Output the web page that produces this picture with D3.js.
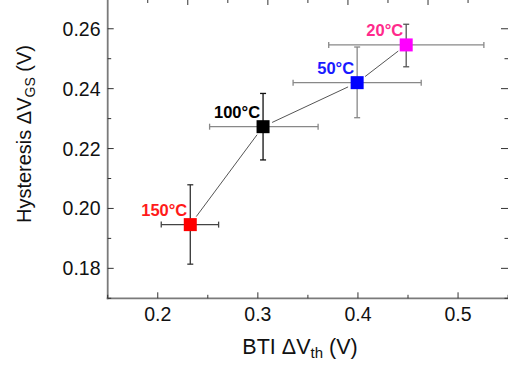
<!DOCTYPE html>
<html>
<head>
<meta charset="utf-8">
<script src="https://cdn.jsdelivr.net/npm/d3@7"></script>
<style>
  html, body { margin: 0; padding: 0; background: #fff; }
  svg { display: block; }
  text { font-family: Arial, "Liberation Sans", sans-serif; }
</style>
</head>
<body>
<svg id="chart" width="508" height="366"></svg>
<script>
// ---- data ----
const labels = ["150°C", "100°C", "50°C", "20°C"];
const btiDvth = [0.2325, 0.3052, 0.3992, 0.4482];
const hysteresis = [0.1946, 0.2273, 0.2420, 0.2546];
const xErrLow = [0.2035, 0.2518, 0.3352, 0.3708];
const xErrHigh = [0.2608, 0.3602, 0.4632, 0.5258];
const yErrLow = [0.1814, 0.2162, 0.2303, 0.2473];
const yErrHigh = [0.2079, 0.2384, 0.2539, 0.2615];
const xTicks = [0.2, 0.3, 0.4, 0.5];
const xMinorTicks = [0.15, 0.25, 0.35, 0.45, 0.55];
const yTicks = [0.18, 0.20, 0.22, 0.24, 0.26];
const yMinorTicks = [0.17, 0.19, 0.21, 0.23, 0.25, 0.27];
const topTicks = [0.19, 0.23, 0.27, 0.31, 0.35, 0.39, 0.43, 0.47, 0.51];
const topMajor = [false, true, false, true, false, true, false, true, false];

// ---- styles ----
const markerColors = ["#ff0000", "#000000", "#0000ff", "#ff00ff"];
const labelColors = ["#ff1a1a", "#000000", "#1a1aff", "#ff2a8c"];
const hErrColors = ["#444444", "#888888", "#888888", "#888888"];
const vErrColors = ["#333333", "#111111", "#888888", "#555555"];

const svg = d3.select("#chart");
const x = d3.scaleLinear().domain([0.15, 0.55]).range([107.7, 508.1]);
const y = d3.scaleLinear().domain([0.17, 0.27]).range([298.3, -1.2]);

const axisColor = "#7a7a7a";
const tickColor = "#333";

// frame lines
svg.append("line").attr("x1", x(0.15)).attr("x2", x(0.15)).attr("y1", y(0.17) + 1).attr("y2", 0)
  .attr("stroke", axisColor).attr("stroke-width", 1.8);
svg.append("line").attr("x1", x(0.15) - 1).attr("x2", 510).attr("y1", y(0.17)).attr("y2", y(0.17))
  .attr("stroke", axisColor).attr("stroke-width", 1.8);

// bottom axis ticks (inward)
const g = svg.append("g");
xTicks.forEach(v => g.append("line").attr("x1", x(v)).attr("x2", x(v)).attr("y1", y(0.17)).attr("y2", y(0.17) - 6)
  .attr("stroke", tickColor).attr("stroke-width", 1));
xMinorTicks.forEach(v => g.append("line").attr("x1", x(v)).attr("x2", x(v)).attr("y1", y(0.17)).attr("y2", y(0.17) - 3.5)
  .attr("stroke", tickColor).attr("stroke-width", 1));
// left axis ticks (inward)
yTicks.forEach(v => g.append("line").attr("x1", x(0.15)).attr("x2", x(0.15) + 6).attr("y1", y(v)).attr("y2", y(v))
  .attr("stroke", tickColor).attr("stroke-width", 1));
yMinorTicks.forEach(v => g.append("line").attr("x1", x(0.15)).attr("x2", x(0.15) + 3.5).attr("y1", y(v)).attr("y2", y(v))
  .attr("stroke", tickColor).attr("stroke-width", 1));
// right axis ticks (inward, frame line outside view)
yTicks.forEach(v => g.append("line").attr("x1", 508).attr("x2", 501).attr("y1", y(v)).attr("y2", y(v))
  .attr("stroke", tickColor).attr("stroke-width", 1));
yMinorTicks.forEach(v => g.append("line").attr("x1", 508).attr("x2", 504.5).attr("y1", y(v)).attr("y2", y(v))
  .attr("stroke", tickColor).attr("stroke-width", 1));
// top axis ticks
topTicks.forEach((v, i) => g.append("line").attr("x1", x(v)).attr("x2", x(v)).attr("y1", 0).attr("y2", topMajor[i] ? 5 : 3)
  .attr("stroke", tickColor).attr("stroke-width", 1));

// tick labels
xTicks.forEach(v => svg.append("text").attr("x", x(v)).attr("y", 320.5).attr("text-anchor", "middle")
  .attr("font-size", 19.5).attr("fill", "#111").text(d3.format(".1f")(v)));
yTicks.forEach(v => svg.append("text").attr("x", 100.5).attr("y", y(v) + 7).attr("text-anchor", "end")
  .attr("font-size", 19.5).attr("fill", "#111").text(d3.format(".2f")(v)));

// axis titles
const xt = svg.append("text").attr("x", 300).attr("y", 354).attr("text-anchor", "middle")
  .attr("font-size", 21.5).attr("fill", "#111");
xt.append("tspan").text("BTI ΔV");
xt.append("tspan").attr("font-size", 15).attr("dy", 4).text("th");
xt.append("tspan").attr("dy", -4).text(" (V)");

const yt = svg.append("text").attr("transform", "translate(31,134) rotate(-90)").attr("text-anchor", "middle")
  .attr("font-size", 20).attr("fill", "#111");
yt.append("tspan").text("Hysteresis ΔV");
yt.append("tspan").attr("font-size", 14).attr("dy", 4).text("GS");
yt.append("tspan").attr("dy", -4).text(" (V)");

// connecting line (segments with gaps near markers)
const gap = 10;
for (let i = 0; i < btiDvth.length - 1; i++) {
  const x1 = x(btiDvth[i]), y1 = y(hysteresis[i]);
  const x2 = x(btiDvth[i + 1]), y2 = y(hysteresis[i + 1]);
  const L = Math.hypot(x2 - x1, y2 - y1);
  const ux = (x2 - x1) / L, uy = (y2 - y1) / L;
  svg.append("line")
    .attr("x1", x1 + ux * gap).attr("y1", y1 + uy * gap)
    .attr("x2", x2 - ux * gap).attr("y2", y2 - uy * gap)
    .attr("stroke", "#555").attr("stroke-width", 1);
}

// error bars
const cap = 3;
btiDvth.forEach((v, i) => {
  const cx = x(v), cy = y(hysteresis[i]);
  const eg = svg.append("g");
  const xl = x(xErrLow[i]), xh = x(xErrHigh[i]);
  eg.append("line").attr("x1", xl).attr("x2", xh).attr("y1", cy).attr("y2", cy).attr("stroke", hErrColors[i]).attr("stroke-width", 1.3);
  [xl, xh].forEach(px => eg.append("line").attr("x1", px).attr("x2", px).attr("y1", cy - cap).attr("y2", cy + cap)
    .attr("stroke", hErrColors[i]).attr("stroke-width", 1.3));
  const yl = y(yErrLow[i]), yh = y(yErrHigh[i]);
  eg.append("line").attr("x1", cx).attr("x2", cx).attr("y1", yl).attr("y2", yh).attr("stroke", vErrColors[i]).attr("stroke-width", 1.3);
  [yl, yh].forEach(py => eg.append("line").attr("x1", cx - cap).attr("x2", cx + cap).attr("y1", py).attr("y2", py)
    .attr("stroke", vErrColors[i]).attr("stroke-width", 1.3));
});

// markers
const ms = 13;
svg.selectAll("rect.m").data(btiDvth).join("rect").attr("class", "m")
  .attr("x", d => x(d) - ms / 2).attr("y", (d, i) => y(hysteresis[i]) - ms / 2)
  .attr("width", ms).attr("height", ms).attr("fill", (d, i) => markerColors[i]);

// point labels
svg.selectAll("text.pl").data(labels).join("text").attr("class", "pl")
  .attr("x", (d, i) => x(btiDvth[i]) - 3).attr("y", (d, i) => y(hysteresis[i]) - 9)
  .attr("text-anchor", "end").attr("font-size", 16.5).attr("font-weight", "bold")
  .attr("fill", (d, i) => labelColors[i]).text(d => d);
</script>
</body>
</html>
